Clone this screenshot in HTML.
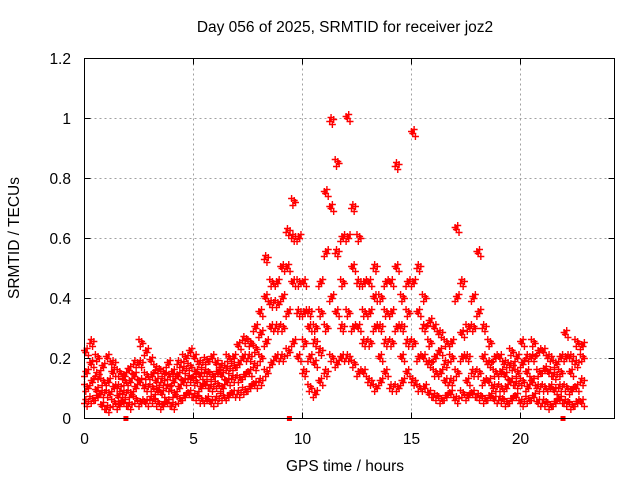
<!DOCTYPE html>
<html><head><meta charset="utf-8"><style>
body{margin:0;background:#fff}
svg{display:block;font-family:"Liberation Sans",sans-serif}
</style></head><body>
<svg id="chart" width="640" height="480" viewBox="0 0 640 480">
<rect width="640" height="480" fill="#fff"/>
<g id="grid"></g>
<g id="pts"></g>
<rect x="84.5" y="58.5" width="530" height="360" fill="none" stroke="#000" stroke-width="1"/>
<g id="ticks"></g>
<text x="345" y="32" font-size="15.5" text-anchor="middle">Day 056 of 2025, SRMTID for receiver joz2</text>
<text x="345" y="471" font-size="15.5" text-anchor="middle">GPS time / hours</text>
<text x="0" y="0" font-size="15.5" text-anchor="middle" transform="translate(19,238) rotate(-90)">SRMTID / TECUs</text>
</svg>
<script>
const xTicks=[0,5,10,15,20];
const yTicks=[0,0.2,0.4,0.6,0.8,1,1.2];
const yTickLabels=["0","0.2","0.4","0.6","0.8","1","1.2"];
const gapMarks=[1.9,9.4,21.95];
const seriesLow=[.05,.06,.07,.04,.03,.05,.04,.05,.04,.06,.05,.05,.06,.05,.04,.05,.04,.06,.07,.08,.07,.06,.06,.05,.06,.07,.07,.08,.08,.09,.1,.11,.12,.15,.18,.2,.2,.22,.25,.2,.15,.1,.08,.12,.15,.2,.18,.2,.2,.18,.15,.15,.12,.1,.12,.15,.1,.1,.12,.15,.12,.1,.1,.08,.07,.06,.07,.08,.06,.08,.07,.08,.07,.06,.07,.06,.06,.05,.06,.07,.05,.06,.07,.05,.05,.04,.05,.06,.05,.04,.05,.05];
const seriesMid1=[.1,.12,.09,.08,.08,.1,.07,.08,.08,.1,.12,.1,.1,.09,.08,.1,.08,.1,.12,.13,.12,.1,.11,.1,.11,.1,.12,.13,.13,.14,.15,.17,.2,.25,.3,.3,.3,.35,.45,.35,.25,.2,.18,.22,.3,.4,.35,.3,.35,.3,.3,.25,.25,.3,.2,.25,.25,.3,.2,.25,.25,.2,.2,.18,.15,.15,.12,.12,.15,.2,.12,.15,.15,.12,.12,.1,.1,.1,.12,.11,.12,.1,.12,.1,.1,.1,.09,.1,.1,.09,.1,.12];
const seriesMid2=[.15,.18,.14,.12,.12,.15,.1,.12,.12,.14,.18,.14,.14,.12,.12,.14,.12,.14,.16,.17,.15,.14,.15,.14,.15,.14,.16,.17,.18,.2,.2,.23,.28,.4,.38,.38,.4,.5,.6,.45,.35,.3,.25,.35,.55,.7,.55,.45,.6,.5,.45,.35,.35,.4,.3,.35,.35,.5,.3,.35,.45,.35,.3,.25,.2,.22,.18,.2,.4,.28,.2,.3,.35,.2,.18,.15,.15,.14,.17,.15,.18,.15,.2,.15,.16,.15,.14,.15,.2,.15,.18,.2];
const seriesHigh=[.22,.25,.2,.17,.2,.18,.15,.14,.16,.18,.25,.22,.19,.16,.15,.18,.15,.18,.2,.22,.2,.18,.19,.2,.18,.17,.2,.2,.24,.26,.25,.3,.35,.53,.45,.45,.5,.62,.72,.6,.45,.35,.3,.45,.75,.99,.85,.6,1.0,.7,.6,.45,.45,.5,.4,.45,.45,.84,.4,.45,.95,.5,.4,.32,.3,.28,.25,.25,.63,.45,.3,.4,.55,.3,.25,.2,.2,.18,.22,.2,.25,.2,.25,.22,.22,.2,.18,.2,.28,.2,.25,.24];
const times=seriesLow.map((_,i)=>i*0.25);
const X0=84.5,PXH=21.8,Y0=418.5,PXU=300;
const xs=t=>X0+t*PXH, ys=v=>Y0-v*PXU;
const NS="http://www.w3.org/2000/svg";
function mk(tag,attrs,parent){const e=document.createElementNS(NS,tag);for(const k in attrs)e.setAttribute(k,attrs[k]);parent.appendChild(e);return e;}
const grid=document.getElementById('grid'),ticks=document.getElementById('ticks'),pts=document.getElementById('pts');
xTicks.forEach(t=>{const x=xs(t);
 if(t>0){const g=mk('line',{x1:x,x2:x,y1:58.5,y2:418.5,stroke:'#a0a0a0','stroke-dasharray':'2,3'},grid);
 
 }
 const l=mk('text',{x:x,y:444,'font-size':15.5,'text-anchor':'middle'},ticks);l.textContent=t;
 
 
 mk('line',{x1:x,x2:x,y1:418.5,y2:412.5,stroke:'#000'},ticks);mk('line',{x1:x,x2:x,y1:58.5,y2:64.5,stroke:'#000'},ticks);});
yTicks.forEach((v,i)=>{const y=ys(v);
 if(v>0&&v<1.2){const g=mk('line',{x1:84.5,x2:614.5,y1:y,y2:y,stroke:'#a0a0a0','stroke-dasharray':'2,3'},grid);
 
 }
 const l=mk('text',{x:71,y:y+5.5,'font-size':15.5,'text-anchor':'end'},ticks);l.textContent=yTickLabels[i];
 
 
 mk('line',{x1:84.5,x2:90.5,y1:y,y2:y,stroke:'#000'},ticks);mk('line',{x1:614.5,x2:608.5,y1:y,y2:y,stroke:'#000'},ticks);});
let d='';
const offs=[0,0.06,0.12,0.18],dy=[0,-4,3,-2];
[seriesLow,seriesMid1,seriesMid2,seriesHigh].forEach((s,si)=>{
 s.forEach((v,i)=>{offs.forEach((o,k)=>{
  const x=xs(times[i]+o),y=Math.min(ys(v)+dy[(k+si+i)%4],Y0-2);
  d+=`M${x-3.5},${y}h7M${x},${y-3.5}v7`;});});});
const p=mk('path',{d:d,stroke:'#ff0000','stroke-width':1.4,fill:'none'},pts);


gapMarks.forEach(t=>{const r=mk('rect',{x:xs(t)-2.5,y:416,width:5,height:5,fill:'#ff0000'},pts);
 
 });
</script>
</body></html>
